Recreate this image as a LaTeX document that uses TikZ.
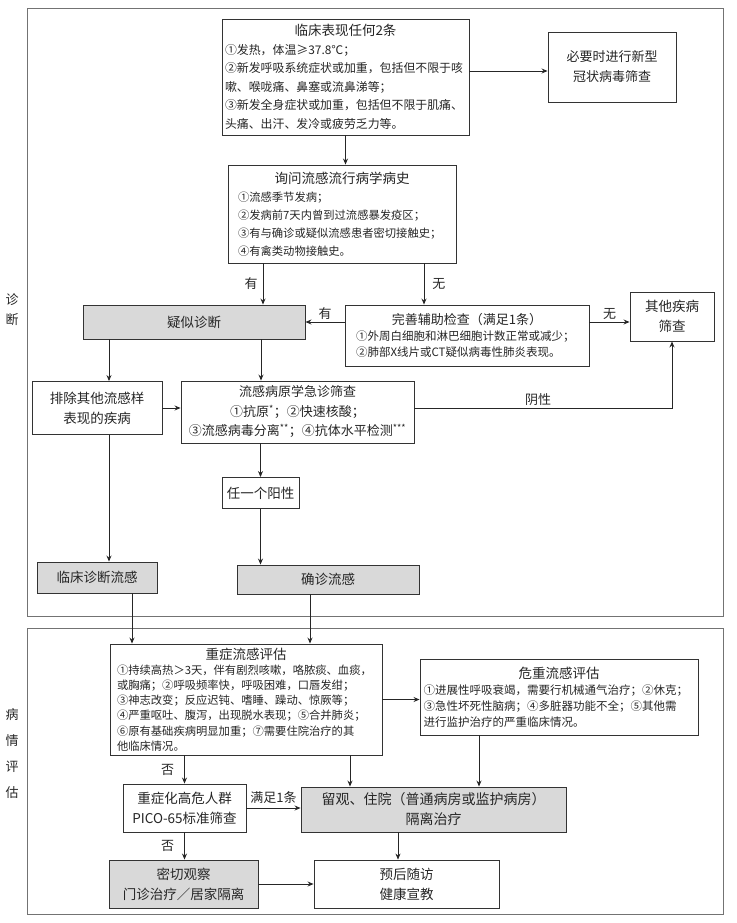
\documentclass[tikz,border=0pt]{standalone}
\usepackage{fontspec}
\setmainfont{Noto Sans CJK SC}
\usetikzlibrary{arrows.meta}
\setlength\parindent{0pt}
\newcommand\fsz[2]{\fontsize{#1pt}{#2pt}\selectfont\lineskiplimit=-100pt\parskip=0pt\relax}

\tikzset{
  box/.style={draw=black!80, line width=0.9pt, fill=white, inner sep=0pt, text=black!85},
  graybox/.style={box, fill=black!15},
  arr/.style={draw=black!85, line width=0.9pt, -{Stealth[length=6pt,width=5pt]}},
  thinarr/.style={arr, line width=0.6pt},
  frame/.style={draw=black!55, line width=0.8pt},
  lbl/.style={text=black!85, font=\fsz{13}{15}, inner sep=1pt},
}

\begin{document}
\begin{tikzpicture}[x=1pt,y=-1pt]
    \useasboundingbox (0,0) rectangle (736,923);

    % --- 1. 外框與側標 ---
    \draw[frame] (27,8) rectangle (723,616);
    \draw[frame] (27,628) rectangle (723,914);
    \node[lbl, align=center, font=\fsz{13}{20}] (zd) at (12,310) {诊\\断};
    \node[lbl, align=center, font=\fsz{13}{26}] (bq) at (12,754) {病\\情\\评\\估};

    % --- 2. 診斷部分 ---
    \node[box, minimum width=247, minimum height=116, text width=241pt, align=left] (clin) at (345.5,77)
      {{\centering\fsz{13.5}{19}临床表现任何2条\par}\fsz{11.9}{18.5}①发热，体温≥37.8℃；\par
       ②新发呼吸系统症状或加重，包括但不限于咳\par 嗽、喉咙痛、鼻塞或流鼻涕等；\par
       ③新发全身症状或加重，包括但不限于肌痛、\par 头痛、出汗、发冷或疲劳乏力等。\par};
    \node[box, minimum width=128, minimum height=70, align=center, font=\fsz{13}{20}] (covid) at (612,67)
      {必要时进行新型\\冠状病毒筛查};
    \node[box, minimum width=228, minimum height=98, text width=208pt, align=left] (ask) at (342,214)
      {{\centering\fsz{13.5}{19}询问流感流行病学病史\par}\fsz{11.3}{18}①流感季节发病；\par
       ②发病前7天内曾到过流感暴发疫区；\par ③有与确诊或疑似流感患者密切接触史；\par ④有禽类动物接触史。\par};
    \node[graybox, minimum width=222, minimum height=34, font=\fsz{13.5}{16}] (sus) at (194,322) {疑似诊断};
    \node[box, minimum width=244, minimum height=61, text width=222pt, align=left] (aux) at (467,335.5)
      {{\centering\fsz{13}{16}完善辅助检查（满足1条）\par}\fsz{11.5}{16}①外周白细胞和淋巴细胞计数正常或减少；\par
       ②肺部X线片或CT疑似病毒性肺炎表现。\par};
    \node[box, minimum width=84, minimum height=49, align=center, font=\fsz{13.5}{20}] (other) at (672,316.5)
      {其他疾病\\筛查};
    \node[box, minimum width=130, minimum height=53, align=center, font=\fsz{13.5}{20}] (excl) at (97,408)
      {排除其他流感样\\表现的疾病};
    \node[box, minimum width=233, minimum height=62, align=center, font=\fsz{13}{19.5}] (path) at (297.5,412)
      {流感病原学急诊筛查\\①抗原\textsuperscript{*}；②快速核酸；\\
       ③流感病毒分离\textsuperscript{**}；④抗体水平检测\textsuperscript{***}};
    \node[box, minimum width=77, minimum height=31, font=\fsz{13.5}{16}] (pos) at (260.5,493) {任一个阳性};
    \node[graybox, minimum width=120, minimum height=31, font=\fsz{13.5}{16}] (clindx) at (97,577.5) {临床诊断流感};
    \node[graybox, minimum width=182, minimum height=29, font=\fsz{13.5}{16}] (conf) at (328,579.5) {确诊流感};

    % --- 3. 病情評估部分 ---
    \node[box, minimum width=272, minimum height=111, text width=258pt, align=left] (severe) at (246,699.5)
      {{\centering\fsz{13.5}{16}重症流感评估\par}\fsz{11.3}{15.2}①持续高热＞3天，伴有剧烈咳嗽，咯脓痰、血痰，\par
       或胸痛；②呼吸频率快，呼吸困难，口唇发绀；\par ③神志改变；反应迟钝、嗜睡、躁动、惊厥等；\par
       ④严重呕吐、腹泻，出现脱水表现；⑤合并肺炎；\par ⑥原有基础疾病明显加重；⑦需要住院治疗的其\par 他临床情况。\par};
    \node[box, minimum width=278, minimum height=76, text width=271pt, align=left] (critical) at (559,697)
      {{\centering\fsz{13.5}{16}危重流感评估\par}\fsz{11.5}{16}①进展性呼吸衰竭，需要行机械通气治疗；②休克；\par
       ③急性坏死性脑病；④多脏器功能不全；⑤其他需\par 进行监护治疗的严重临床情况。\par};
    \node[box, minimum width=123, minimum height=48, align=center, font=\fsz{13.5}{20}] (risk) at (184.5,808)
      {重症化高危人群\\PICO-65标准筛查};
    \node[graybox, minimum width=265, minimum height=45, align=center, font=\fsz{14}{20}] (obs) at (433.5,809.5)
      {留观、住院（普通病房或监护病房）\\隔离治疗};
    \node[graybox, minimum width=149, minimum height=48, align=center, font=\fsz{13.5}{20}] (close) at (183.5,884)
      {密切观察\\门诊治疗／居家隔离};
    \node[box, minimum width=185, minimum height=48, align=center, font=\fsz{13.5}{20}] (follow) at (406.5,884)
      {预后随访\\健康宣教};

    % --- 4. 連線用的列與行 ---
    \coordinate (yR) at (0,71);
    \coordinate (xL) at (263,0);
    \coordinate (xR) at (424,0);
    \coordinate (xA) at (109,0);
    \coordinate (xB) at (261,0);
    \coordinate (xC) at (132,0);
    \coordinate (xD) at (310,0);
    \coordinate (xE) at (350,0);
    \coordinate (xF) at (479,0);
    \coordinate (xG) at (398,0);

    % --- 5. 箭頭 ---
    \draw[arr] (clin.east |- yR) -- (covid.west |- yR);
    \draw[arr] (clin.south) -- (clin.south |- ask.north);
    \draw[arr] (ask.south -| xL) -- node[lbl, left=4pt] (l1) {有} (sus.north -| xL);
    \draw[arr] (ask.south -| xR) -- node[lbl, right=7pt] (l2) {无} (aux.north -| xR);
    \draw[arr] (aux.west |- sus.east) -- node[lbl, above=1pt] (l3) {有} (sus.east);
    \draw[arr] (aux.east |- sus.east) -- node[lbl, above=1pt] (l4) {无} (other.west |- sus.east);
    \draw[arr] (sus.south -| xA) -- (excl.north -| xA);
    \draw[arr] (sus.south -| xB) -- (path.north -| xB);
    \draw[arr] (excl.east) -- (excl.east -| path.west);
    \draw[arr] (excl.east -| path.east) -| node[lbl, above=1pt, pos=0.24] (l5) {阴性} (other.south);
    \draw[arr] (pos.north |- path.south) -- (pos.north);
    \draw[arr] (excl.south -| xA) -- (clindx.north -| xA);
    \draw[arr] (pos.south) -- (pos.south |- conf.north);
    \draw[arr] (clindx.south -| xC) -- (severe.north -| xC);
    \draw[arr] (conf.south -| xD) -- (severe.north -| xD);
    \draw[arr] (severe.east) -- (severe.east -| critical.west);
    \draw[arr] (risk.north |- severe.south) -- node[lbl, left=9pt] (l6) {否} (risk.north);
    \draw[arr] (severe.south -| xE) -- (obs.north -| xE);
    \draw[arr] (critical.south -| xF) -- (obs.north -| xF);
    \draw[arr] (risk.east) -- node[lbl, above=3pt] (l7) {满足1条} (risk.east -| obs.west);
    \draw[arr] (risk.south) -- node[lbl, left=9pt] (l8) {否} (risk.south |- close.north);
    \draw[arr] (close.east) -- (close.east -| follow.west);
    \draw[thinarr] (obs.south -| xG) -- (follow.north -| xG);
\end{tikzpicture}
\end{document}
